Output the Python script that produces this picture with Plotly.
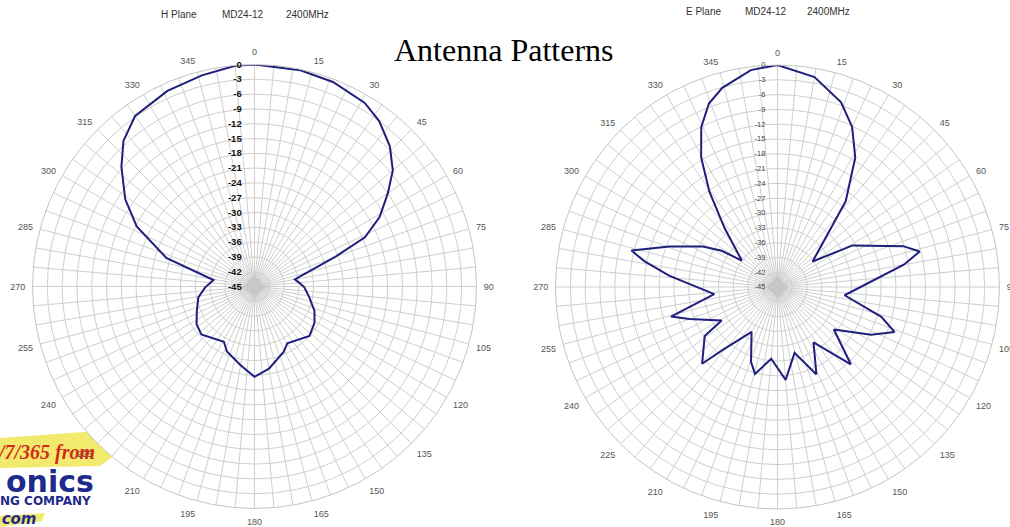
import plotly.graph_objects as go

# ---------------- data ----------------
h_theta = [0, 12, 21, 31, 37, 44, 50, 55, 61, 66, 70, 80, 87, 91, 101, 112, 121, 132,
           150, 156, 170, 180, 190, 203, 209, 228, 237, 247, 259, 269, 279, 288, 297,
           304, 312, 318, 325, 336, 346, 355, 360]
h_db = [0, -0.2, -0.6, -1.6, -3.0, -5.5, -8.4, -12.0, -16.0, -20.5, -27.8, -36.7, -35.6,
        -34.9, -33.7, -31.9, -30.8, -30.0, -31.7, -30.5, -28.1, -26.7, -28.8, -30.7, -32.2,
        -30.5, -31.0, -32.3, -33.4, -35.0, -36.6, -26.2, -18.2, -13.4, -8.7, -5.3, -2.8,
        -1.6, -0.9, -0.1, 0]

e_theta = [0, 10, 19, 25, 31, 38.5, 54, 61, 72, 76, 80, 97, 106, 111, 117, 127, 136.5,
           147, 156, 165.5, 175, 185, 194.5, 199.5, 210, 221, 224.5, 236, 239, 250, 254.5,
           263.5, 276, 281, 284, 290.5, 298.5, 303, 306.5, 318, 324.5, 329.5, 334.5,
           339.5, 344.5, 353, 360]
e_db = [0, -1.8, -5.4, -9.2, -14.4, -22.8, -36.2, -27.6, -18.2, -15.3, -19.0, -31.3,
        -23.1, -19.6, -23.7, -30.7, -23.4, -31.6, -25.6, -31.2, -26.1, -30.4, -26.8, -28.9,
        -34.5, -28.2, -23.2, -27.2, -31.8, -26.0, -22.6, -32.1, -22.9, -17.5, -14.5, -21.6,
        -27.8, -31.5, -36.0, -29.0, -21.2, -14.5, -9.1, -5.3, -3.1, -0.7, 0]

angle_grid = list(range(0, 360, 5))
angle_labels = [str(a) if a % 15 == 0 else "" for a in angle_grid]
radial_ticks = list(range(-45, 1, 3))
radial_labels = [str(v) for v in radial_ticks]

title_text = "Antenna Patterns"
h_caption = ["H Plane", "MD24-12", "2400MHz"]
e_caption = ["E Plane", "MD24-12", "2400MHz"]

# ---------------- figure ----------------
W, H = 1010, 527
LINE = "#1f1f7c"
GRID = "#cfcfcf"

# polar centres / radius in page pixels
C1 = (254.5, 286.5)
C2 = (777.5, 287.0)
R = 222


def px(x):
    return x / W


def py(y):
    return 1 - y / H


fig = go.Figure()
fig.add_trace(go.Scatterpolar(r=h_db, theta=h_theta, mode="lines",
                              line=dict(color=LINE, width=2), subplot="polar",
                              showlegend=False))
fig.add_trace(go.Scatterpolar(r=e_db, theta=e_theta, mode="lines",
                              line=dict(color=LINE, width=2), subplot="polar2",
                              showlegend=False))


def angular():
    return dict(direction="clockwise", rotation=90, tickmode="array",
                tickvals=angle_grid, ticktext=angle_labels, gridcolor=GRID,
                gridwidth=1, showline=True, linecolor="#c4c4c4", linewidth=1,
                ticks="outside", ticklen=5, tickcolor="rgba(0,0,0,0)",
                tickfont=dict(family="Liberation Sans", size=9, color="#555555"))


def radial(font):
    return dict(range=[-45, 0], tickmode="array", tickvals=radial_ticks,
                ticktext=radial_labels, angle=90, side="counterclockwise",
                showline=False, ticks="outside", ticklen=9,
                tickcolor="rgba(0,0,0,0)", gridcolor=GRID, gridwidth=1,
                tickangle=90, tickfont=font)


def dom(c):
    return dict(x=[px(c[0] - R), px(c[0] + R)], y=[py(c[1] + R), py(c[1] - R)])


fig.update_layout(
    width=W, height=H, margin=dict(l=0, r=0, t=0, b=0),
    paper_bgcolor="white", plot_bgcolor="white",
    polar=dict(domain=dom(C1), bgcolor="white", angularaxis=angular(),
               radialaxis=radial(dict(family="Liberation Sans", size=9.5,
                                      color="#111111", weight="bold"))),
    polar2=dict(domain=dom(C2), bgcolor="white", angularaxis=angular(),
                radialaxis=radial(dict(family="Liberation Sans", size=7.5,
                                       color="#444444"))),
)

ann = []
ann.append(dict(text=title_text, x=px(504), y=py(50), xref="paper", yref="paper",
                xanchor="center", yanchor="middle", showarrow=False,
                font=dict(family="Liberation Serif", size=32, color="black")))
for txt, cx in zip(h_caption, [179, 243, 307]):
    ann.append(dict(text=txt, x=px(cx), y=py(15), xref="paper", yref="paper",
                    xanchor="center", yanchor="middle", showarrow=False,
                    font=dict(family="Liberation Sans", size=10, color="#333333")))
for txt, cx in zip(e_caption, [703, 766, 828]):
    ann.append(dict(text=txt, x=px(cx), y=py(11), xref="paper", yref="paper",
                    xanchor="center", yanchor="middle", showarrow=False,
                    font=dict(family="Liberation Sans", size=10, color="#333333")))

# logo fragment at bottom-left
ann.append(dict(text="24/7/365 from", x=px(97), y=py(452), xref="paper", yref="paper",
                xanchor="right", yanchor="middle", showarrow=False,
                font=dict(family="Liberation Serif", size=20, color="#d42a1e",
                          weight="bold", style="italic")))
ann.append(dict(text="onics", x=px(96), y=py(481), xref="paper", yref="paper",
                xanchor="right", yanchor="middle", showarrow=False,
                font=dict(family="DejaVu Sans", size=30, color="#1e2b8a", weight="bold")))
ann.append(dict(text="NG COMPANY", x=px(93), y=py(501), xref="paper", yref="paper",
                xanchor="right", yanchor="middle", showarrow=False,
                font=dict(family="DejaVu Sans", size=12, color="#1e2b8a", weight="bold")))
ann.append(dict(text="s.com", x=px(38), y=py(519), xref="paper", yref="paper",
                xanchor="right", yanchor="middle", showarrow=False,
                font=dict(family="DejaVu Sans", size=15, color="#1e2b8a",
                          weight="bold", style="italic")))


def path(points):
    return "M " + " L ".join(f"{px(x):.5f},{py(y):.5f}" for x, y in points) + " Z"


def diamond(c, h):
    return path([(c[0], c[1] - h), (c[0] + h, c[1]), (c[0], c[1] + h), (c[0] - h, c[1])])


shapes = [
    dict(type="path", xref="paper", yref="paper", layer="below",
         path=path([(0, 438), (98, 431), (119, 452), (100, 466), (0, 468)]),
         fillcolor="#f2ea6c", line=dict(width=0)),
    dict(type="path", xref="paper", yref="paper", layer="below",
         path=path([(0, 516), (45, 513), (42, 521), (0, 527)]),
         fillcolor="#f2ea6c", line=dict(width=0)),
    dict(type="path", xref="paper", yref="paper", layer="above", opacity=0.85,
         path=diamond(C1, 11), fillcolor="#c6c6c6", line=dict(width=0)),
    dict(type="path", xref="paper", yref="paper", layer="above", opacity=0.85,
         path=diamond(C2, 11), fillcolor="#c6c6c6", line=dict(width=0)),
]

fig.update_layout(annotations=ann, shapes=shapes)
fig.write_html("out.html", config={"displayModeBar": False},
               post_script="document.body.style.margin='0';document.body.style.overflow='hidden';")
